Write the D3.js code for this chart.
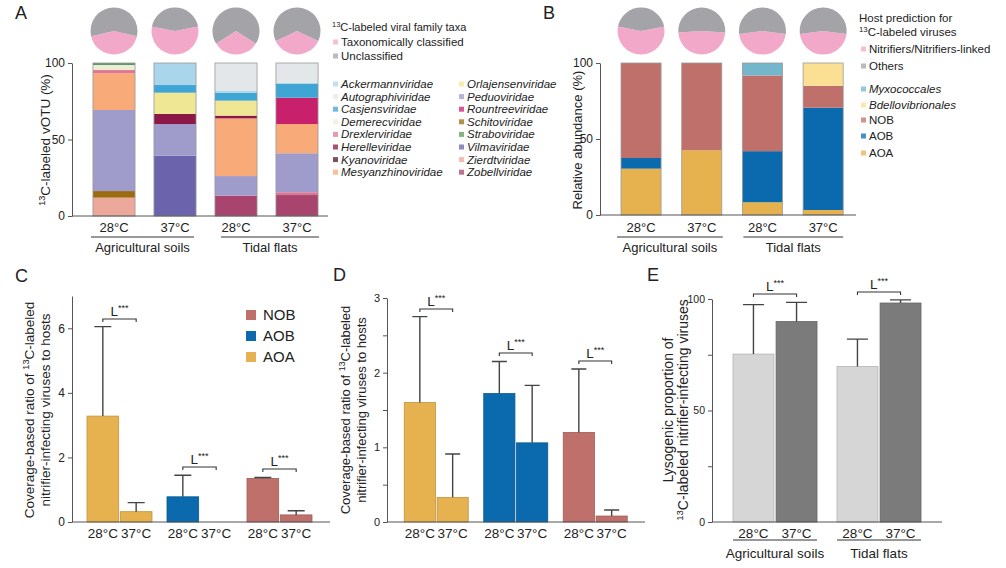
<!DOCTYPE html>
<html>
<head>
<meta charset="utf-8">
<script src="https://cdn.jsdelivr.net/npm/d3@7"></script>
<style>
  body { margin: 0; background: #fff; }
  svg text { font-family: Arial, "Liberation Sans", Helvetica, sans-serif; fill: #222; }
</style>
</head>
<body>
<svg width="1006" height="568"></svg>
<script>
// ---------- data ----------
const temps = ['28°C', '37°C'];
const habitats = ['Agricultural soils', 'Tidal flats'];

const families = ['Ackermannviridae', 'Autographiviridae', 'Casjensviridae', 'Demerecviridae',
  'Drexlerviridae', 'Herelleviridae', 'Kyanoviridae', 'Mesyanzhinoviridae',
  'Orlajensenviridae', 'Peduoviridae', 'Rountreeviridae', 'Schitoviridae',
  'Straboviridae', 'Vilmaviridae', 'Zierdtviridae', 'Zobellviridae'];
const familyColors = ['#a9d6ea', '#e4e7e9', '#3fa5d4', '#f0ecd0',
  '#de7890', '#8c1848', '#4a1a30', '#f8aa78',
  '#efe793', '#9f9bcb', '#c9206c', '#9b6b0f',
  '#5f9a5a', '#6b63ab', '#eca89a', '#a8446e'];

// panel A: stacked segments per sample (bottom -> top), % of 13C-labeled vOTU
const aAgri28 = [['Zierdtviridae', 12], ['Schitoviridae', 4.3], ['Peduoviridae', 53], ['Mesyanzhinoviridae', 23.9],
  ['Drexlerviridae', 2.2], ['Demerecviridae', 2.2], ['Autographiviridae', 1.1], ['Straboviridae', 1.3]];
const aAgri37 = [['Vilmaviridae', 39.4], ['Peduoviridae', 20.7], ['Herelleviridae', 6.6],
  ['Orlajensenviridae', 13.9], ['Casjensviridae', 5], ['Ackermannviridae', 14.4]];
const aTidal28 = [['Zobellviridae', 13.3], ['Peduoviridae', 12.8], ['Mesyanzhinoviridae', 37.7], ['Herelleviridae', 1.8],
  ['Orlajensenviridae', 9.8], ['Casjensviridae', 5.2], ['Ackermannviridae', 1.1], ['Autographiviridae', 18.3]];
const aTidal37 = [['Zobellviridae', 13.7], ['Drexlerviridae', 1.8], ['Peduoviridae', 25.5], ['Mesyanzhinoviridae', 19.1],
  ['Rountreeviridae', 17.2], ['Casjensviridae', 9], ['Ackermannviridae', 0.8], ['Autographiviridae', 12.9]];
// pies: fraction taxonomically classified / nitrifier-linked
const aClassified = [0.43, 0.56, 0.32, 0.36];
const bNitrifier = [0.56, 0.48, 0.46, 0.46];

// panel B: host prediction stacks
const hostTaxa = ['AOA', 'AOB', 'NOB', 'Bdellovibrionales', 'Myxococcales'];
const hostColors = ['#e6b14f', '#0b6aad', '#c0706a', '#fbdf93', '#74b6cc'];
const bAOA = [30.5, 42.6, 8.4, 3.3];
const bAOB = [7, 0, 33.6, 67.3];
const bNOB = [62.5, 57.4, 49.8, 14.4];
const bBdello = [0, 0, 0, 15];
const bMyxo = [0, 0, 8.2, 0];

// panel C / D: coverage ratio, mean and sd for 28 / 37 °C
const nitrifiers = ['AOA', 'AOB', 'NOB'];
const cMean28 = [3.28, 0.78, 1.35], cSd28 = [2.77, 0.67, 0.03];
const cMean37 = [0.32, 0, 0.22], cSd37 = [0.28, 0, 0.13];
const dMean28 = [1.6, 1.72, 1.2], dSd28 = [1.15, 0.43, 0.85];
const dMean37 = [0.33, 1.06, 0.08], dSd37 = [0.58, 0.77, 0.08];

// panel E: lysogenic proportion
const eMean28 = [75.3, 69.7], eSd28 = [22.2, 12.3];
const eMean37 = [89.9, 98.2], eSd37 = [8.6, 1.4];

// ---------- helpers ----------
const svg = d3.select('svg');
const FONT = 'Arial, "Liberation Sans", Helvetica, sans-serif';

function rich(sel, parts) {
  parts.forEach(([t, sup]) => {
    const ts = sel.append('tspan').text(t);
    if (sup) ts.attr('font-size', '0.68em').attr('baseline-shift', 'super');
  });
  return sel;
}

function yLabel(x, y, size, parts) {
  const t = svg.append('text')
    .attr('transform', `translate(${x},${y}) rotate(-90)`)
    .attr('text-anchor', 'middle').attr('dy', '0.35em')
    .attr('font-size', size);
  rich(t, parts);
}

function panelLetter(x, y, txt) {
  svg.append('text').attr('x', x).attr('y', y).attr('font-size', 18).text(txt);
}

function yAxis(x, y, ticks, labels, fs) {
  const g = svg.append('g').attr('transform', `translate(${x},0)`)
    .call(d3.axisLeft(y).tickValues(ticks).tickSize(4).tickPadding(3).tickSizeOuter(0)
      .tickFormat(d => labels.includes(d) ? d : ''));
  g.attr('font-family', FONT).attr('font-size', fs);
  g.select('.domain').attr('stroke', '#555');
  g.selectAll('.tick line').attr('stroke', '#555');
  g.selectAll('.tick text').attr('fill', '#333');
  return g;
}

function baseLine(x0, x1, y) {
  svg.append('line').attr('x1', x0).attr('x2', x1).attr('y1', y).attr('y2', y)
    .attr('stroke', '#555').attr('stroke-width', 1);
}

function groupUnder(x0, x1, yLine, yText, label, fs) {
  svg.append('line').attr('x1', x0).attr('x2', x1).attr('y1', yLine).attr('y2', yLine)
    .attr('stroke', '#333').attr('stroke-width', 1);
  svg.append('text').attr('x', (x0 + x1) / 2).attr('y', yText).attr('text-anchor', 'middle')
    .attr('font-size', fs).text(label);
}

function sigBracket(x0, x1, y) {
  svg.append('path').attr('d', `M${x0},${y + 3}V${y}H${x1}V${y + 3}`)
    .attr('fill', 'none').attr('stroke', '#333').attr('stroke-width', 1.1);
  const t = svg.append('text').attr('x', (x0 + x1) / 2).attr('y', y - 3)
    .attr('text-anchor', 'middle').attr('font-size', 13.5);
  rich(t, [['L', false], ['***', true]]);
}

const pieArc = d3.arc().innerRadius(0).outerRadius(23.5);
function drawPie(cx, cy, p) {
  const pie = d3.pie().sort(null)
    .startAngle(Math.PI - p * Math.PI).endAngle(3 * Math.PI - p * Math.PI);
  svg.append('g').attr('transform', `translate(${cx},${cy})`)
    .selectAll('path').data(pie([p, 1 - p])).join('path')
    .attr('d', pieArc).attr('fill', (d, i) => i ? '#a4a3a8' : '#f2a9c9');
}

function swatchLegend(items, x, ys, size, fs, italicFrom) {
  items.forEach(([label, color], i) => {
    svg.append('rect').attr('x', x).attr('y', ys[i] - size / 2).attr('width', size).attr('height', size)
      .attr('fill', color).attr('opacity', 0.75);
    svg.append('text').attr('x', x + size + 3).attr('y', ys[i]).attr('dy', '0.35em')
      .attr('font-size', fs).attr('font-style', i >= italicFrom ? 'italic' : 'normal').text(label);
  });
}

// ---------- panel A ----------
panelLetter(15, 19, 'A');
const famColor = d3.scaleOrdinal().domain(families).range(familyColors);
const xA = d3.scaleBand().domain(d3.range(4)).range([83.5, 327.5]).paddingInner(0.31).paddingOuter(0.155);
const yA = d3.scaleLinear().domain([0, 100]).range([216, 63]);
[aAgri28, aAgri37, aTidal28, aTidal37].forEach((segs, i) => {
  const tops = d3.cumsum(segs, d => d[1]);
  svg.append('g').selectAll('rect').data(segs).join('rect')
    .attr('x', xA(i)).attr('width', xA.bandwidth())
    .attr('y', (d, j) => yA(tops[j]))
    .attr('height', (d, j) => yA(tops[j] - d[1]) - yA(tops[j]))
    .attr('fill', d => famColor(d[0]));
  svg.append('rect').attr('x', xA(i)).attr('width', xA.bandwidth())
    .attr('y', yA(100)).attr('height', yA(0) - yA(100))
    .attr('fill', 'none').attr('stroke', '#9a9a9a').attr('stroke-width', 0.8);
  drawPie(xA(i) + xA.bandwidth() / 2, 31, aClassified[i]);
  svg.append('text').attr('x', xA(i) + xA.bandwidth() / 2).attr('y', 232)
    .attr('text-anchor', 'middle').attr('font-size', 13).text(temps[i % 2]);
});
yAxis(72, yA, [0, 50, 100], [0, 50, 100], 12);
baseLine(72, 328, yA(0));
groupUnder(xA(0) - 2, xA(1) + xA.bandwidth() - 2, 237, 252, habitats[0], 13);
groupUnder(xA(2) + 6, xA(3) + xA.bandwidth() + 1, 237, 252, habitats[1], 13);
yLabel(45, 140, 13.5, [['13', true], ['C-labeled vOTU (%)', false]]);

// legend A
const tA = svg.append('text').attr('x', 332).attr('y', 27).attr('dy', '0.35em').attr('font-size', 11);
rich(tA, [['13', true], ['C-labeled viral family taxa', false]]);
swatchLegend([['Taxonomically classified', '#f2a9c9'], ['Unclassified', '#a4a3a8']], 333, [42, 56], 5, 11.5, 99);
const half = families.length / 2;
swatchLegend(families.slice(0, half).map((f, i) => [f, familyColors[i]]), 333,
  d3.range(half).map(i => 84 + i * 12.6), 5, 11.5, 0);
swatchLegend(families.slice(half).map((f, i) => [f, familyColors[i + half]]), 459,
  d3.range(half).map(i => 84 + i * 12.6), 5, 11.5, 0);

// ---------- panel B ----------
panelLetter(543, 19, 'B');
const xB = d3.scaleBand().domain(d3.range(4)).range([610.7, 853.5]).paddingInner(0.34).paddingOuter(0.17);
const yB = d3.scaleLinear().domain([0, 100]).range([215, 63]);
const bRows = d3.range(4).map(i => ({
  AOA: bAOA[i], AOB: bAOB[i], NOB: bNOB[i], Bdellovibrionales: bBdello[i], Myxococcales: bMyxo[i]
}));
const stackB = d3.stack().keys(hostTaxa)(bRows);
svg.append('g').selectAll('g').data(stackB).join('g')
  .attr('fill', (d, i) => hostColors[i])
  .selectAll('rect').data(d => d).join('rect')
  .attr('x', (d, i) => xB(i)).attr('width', xB.bandwidth())
  .attr('y', d => yB(d[1])).attr('height', d => yB(d[0]) - yB(d[1]));
d3.range(4).forEach(i => {
  svg.append('rect').attr('x', xB(i)).attr('width', xB.bandwidth())
    .attr('y', yB(100)).attr('height', yB(0) - yB(100))
    .attr('fill', 'none').attr('stroke', '#9a9a9a').attr('stroke-width', 0.8);
  drawPie(xB(i) + xB.bandwidth() / 2, 31, bNitrifier[i]);
  svg.append('text').attr('x', xB(i) + xB.bandwidth() / 2).attr('y', 232)
    .attr('text-anchor', 'middle').attr('font-size', 13).text(temps[i % 2]);
});
yAxis(600, yB, [0, 50, 100], [0, 50, 100], 12);
baseLine(600, 856, yB(0));
groupUnder(xB(0) - 4, xB(1) + xB.bandwidth() + 1, 237, 252, habitats[0], 13);
groupUnder(xB(2) + 1, xB(3) + xB.bandwidth(), 237, 252, habitats[1], 13);
yLabel(577, 140, 13, [['Relative abundance (%)', false]]);

// legend B
svg.append('text').attr('x', 859).attr('y', 18).attr('dy', '0.35em').attr('font-size', 11.5).text('Host prediction for');
rich(svg.append('text').attr('x', 859).attr('y', 32).attr('dy', '0.35em').attr('font-size', 11.5),
  [['13', true], ['C-labeled viruses', false]]);
swatchLegend([['Nitrifiers/Nitrifiers-linked', '#f2a9c9'], ['Others', '#a4a3a8']], 861, [49, 66], 5, 11.5, 99);
const bLeg = [['Myxococcales', hostColors[4]], ['Bdellovibrionales', hostColors[3]],
  ['NOB', hostColors[2]], ['AOB', hostColors[1]], ['AOA', hostColors[0]]];
bLeg.forEach((d, i) => {
  svg.append('rect').attr('x', 861).attr('y', [89, 105, 120, 136, 153][i] - 2.5)
    .attr('width', 5).attr('height', 5).attr('fill', d[1]).attr('opacity', 0.75);
  svg.append('text').attr('x', 869).attr('y', [89, 105, 120, 136, 153][i]).attr('dy', '0.35em')
    .attr('font-size', 11.5).attr('font-style', i < 2 ? 'italic' : 'normal').text(d[0]);
});

// ---------- grouped bar panels C / D / E ----------
function groupedPanel(o) {
  const x = d3.scaleBand().domain(o.groups).range(o.xRange).paddingInner(o.padIn).paddingOuter(o.padIn / 2);
  const xi = d3.scaleBand().domain(temps).range([0, x.bandwidth()]).paddingInner(0.05);
  const y = d3.scaleLinear().domain(o.yDomain).range([522, o.yTop]);
  const bars = [];
  o.groups.forEach((g, i) => {
    bars.push({ g, t: temps[0], m: o.m28[i], s: o.s28[i], fill: o.fill(i, 0) });
    bars.push({ g, t: temps[1], m: o.m37[i], s: o.s37[i], fill: o.fill(i, 1) });
  });
  const gb = svg.append('g');
  bars.filter(b => b.m > 0).forEach(b => {
    const bx = x(b.g) + xi(b.t), cx = bx + xi.bandwidth() / 2;
    gb.append('rect').attr('x', bx).attr('width', xi.bandwidth())
      .attr('y', y(b.m)).attr('height', y(0) - y(b.m))
      .attr('fill', b.fill).attr('stroke', d3.color(b.fill).darker(0.5)).attr('stroke-width', 0.8);
    if (b.s > 0) {
      gb.append('path').attr('d', `M${cx},${y(b.m)}V${y(b.m + b.s)}M${cx - o.cap / 2},${y(b.m + b.s)}H${cx + o.cap / 2}`)
        .attr('stroke', '#444').attr('stroke-width', 1.4).attr('fill', 'none');
    }
  });
  o.groups.forEach((g, i) => {
    temps.forEach(t => {
      svg.append('text').attr('x', x(g) + xi(t) + xi.bandwidth() / 2).attr('y', 538)
        .attr('text-anchor', 'middle').attr('font-size', 13.5).text(t);
    });
    const top = Math.max(o.m28[i] + o.s28[i], o.m37[i] + o.s37[i]);
    sigBracket(x(g) + xi(temps[0]) + xi.bandwidth() / 2, x(g) + xi(temps[1]) + xi.bandwidth() / 2,
      Math.round(y(top) - o.gap));
  });
  yAxis(o.axisX, y, o.ticks, o.labels, o.tickFs);
  baseLine(o.axisX, o.xEnd, 522);
  return { x, xi };
}

// panel C
panelLetter(15, 282, 'C');
const nitriColor = { AOA: '#e6b14f', AOB: '#0b6aad', NOB: '#c0706a' };
groupedPanel({
  groups: nitrifiers, xRange: [79.5, 319.5], padIn: 0.1875, yDomain: [0, 7], yTop: 296,
  m28: cMean28, s28: cSd28, m37: cMean37, s37: cSd37,
  fill: i => nitriColor[nitrifiers[i]], cap: 17, gap: 8,
  axisX: 72, xEnd: 330, ticks: [0, 2, 4, 6], labels: [0, 2, 4, 6], tickFs: 12
});
['NOB', 'AOB', 'AOA'].forEach((k, i) => {
  svg.append('rect').attr('x', 246).attr('y', 315 + i * 21 - 5).attr('width', 10).attr('height', 10)
    .attr('fill', nitriColor[k]);
  svg.append('text').attr('x', 263).attr('y', 315 + i * 21).attr('dy', '0.35em')
    .attr('font-size', 15).text(k);
});
yLabel(29, 410, 13.5, [['Coverage-based ratio of ', false], ['13', true], ['C-labeled', false]]);
yLabel(45, 410, 13.5, [['nitrifier-infecting viruses to hosts', false]]);

// panel D
panelLetter(333, 281, 'D');
groupedPanel({
  groups: nitrifiers, xRange: [396.5, 635], padIn: 0.195, yDomain: [0, 3], yTop: 298,
  m28: dMean28, s28: dSd28, m37: dMean37, s37: dSd37,
  fill: i => nitriColor[nitrifiers[i]], cap: 15, gap: 8,
  axisX: 387, xEnd: 645, ticks: [0, 0.5, 1, 1.5, 2, 2.5, 3], labels: [0, 1, 2, 3], tickFs: 11
});
yLabel(345, 410, 13, [['Coverage-based ratio of ', false], ['13', true], ['C-labeled', false]]);
yLabel(361, 410, 13, [['nitrifier-infecting viruses to hosts', false]]);

// panel E
panelLetter(647, 281, 'E');
const eX = groupedPanel({
  groups: habitats, xRange: [723, 931], padIn: 0.192, yDomain: [0, 100], yTop: 299,
  m28: eMean28, s28: eSd28, m37: eMean37, s37: eSd37,
  fill: (i, t) => t ? '#7b7b7b' : '#d6d6d6', cap: 21, gap: 8,
  axisX: 712, xEnd: 942, ticks: [0, 25, 50, 75, 100], labels: [0, 50, 100], tickFs: 10.5
});
habitats.forEach(h => {
  groupUnder(eX.x(h), eX.x(h) + eX.x.bandwidth(), 540, 558, h, 13.5);
});
yLabel(668, 410, 14, [['Lysogenic proportion of', false]]);
yLabel(683, 410, 14, [['13', true], ['C-labeled nitrifier-infecting viruses', false]]);
</script>
</body>
</html>
